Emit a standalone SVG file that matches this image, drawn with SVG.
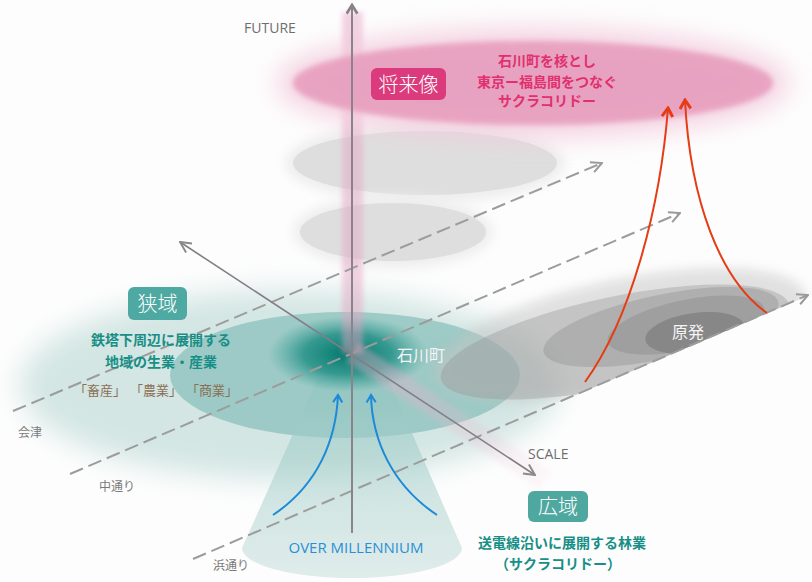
<svg xmlns="http://www.w3.org/2000/svg" width="812" height="582" viewBox="0 0 812 582">
<style>
.jp{font-family:"Noto Sans CJK JP","Noto Sans",sans-serif}
.lat{font-family:"Open Sans","Liberation Sans",sans-serif}
.axislbl{font-size:14px;fill:#6e6e6e}
.place{font-size:12px;fill:#7a7a7a}
.tealtxt{font-size:14px;font-weight:bold;fill:#178f86}
.pinktxt{font-size:14px;font-weight:bold;fill:#e0306e}
.badge{font-size:20px;fill:#fff;font-weight:300}
.dash{fill:none;stroke:#9c9c9c;stroke-width:2;stroke-dasharray:14 6}
</style>
<defs>
<filter id="soft" x="-20%" y="-20%" width="140%" height="140%"><feGaussianBlur stdDeviation="2.5"/></filter>
<filter id="halo" x="-40%" y="-60%" width="180%" height="220%"><feGaussianBlur stdDeviation="14"/></filter>
<filter id="mid" x="-30%" y="-50%" width="160%" height="200%"><feGaussianBlur stdDeviation="6"/></filter>
<radialGradient id="core" cx="0.5" cy="0.5" r="0.5">
<stop offset="0" stop-color="#00766b" stop-opacity="1"/>
<stop offset="0.55" stop-color="#0a857a" stop-opacity="0.7"/>
<stop offset="1" stop-color="#2a9a90" stop-opacity="0"/>
</radialGradient>
<linearGradient id="cone" x1="0" y1="0" x2="0" y2="1">
<stop offset="0" stop-color="#8fc4bf" stop-opacity="0.85"/>
<stop offset="1" stop-color="#c7dfdc" stop-opacity="0.8"/>
</linearGradient>
<linearGradient id="pinkdiag" gradientUnits="userSpaceOnUse" x1="352" y1="352" x2="545" y2="480">
<stop offset="0" stop-color="#e7a8c6" stop-opacity="0.7"/>
<stop offset="1" stop-color="#efc3d6" stop-opacity="0.2"/>
</linearGradient>
<clipPath id="aboveL3"><polygon points="0,0 812,0 812,294 0,642"/></clipPath>
<marker id="mGray" viewBox="0 0 12 12" refX="11" refY="6" markerWidth="13" markerHeight="13" markerUnits="userSpaceOnUse" orient="auto-start-reverse"><path d="M1,1 L11,6 L1,11" fill="none" stroke="#999" stroke-width="1.8"/></marker>
<marker id="mAxis" viewBox="0 0 12 12" refX="11" refY="6" markerWidth="13" markerHeight="13" markerUnits="userSpaceOnUse" orient="auto-start-reverse"><path d="M1,1 L11,6 L1,11" fill="none" stroke="#8a8a8a" stroke-width="1.8"/></marker>
<marker id="mTop" viewBox="0 0 12 12" refX="10" refY="6" markerWidth="13" markerHeight="13" markerUnits="userSpaceOnUse" orient="auto"><path d="M2,1 L10,6 L2,11" fill="none" stroke="#8a8489" stroke-width="2.6"/></marker>
<marker id="mRed" viewBox="0 0 12 12" refX="10" refY="6" markerWidth="13" markerHeight="13" markerUnits="userSpaceOnUse" orient="auto"><path d="M2,1 L10,6 L2,11" fill="none" stroke="#e63c14" stroke-width="2.8"/></marker>
<marker id="mBlue" viewBox="0 0 12 12" refX="10" refY="6" markerWidth="11" markerHeight="11" markerUnits="userSpaceOnUse" orient="auto"><path d="M2,1 L10,6 L2,11" fill="none" stroke="#1c8ad8" stroke-width="2.2"/></marker>
</defs>
<rect width="812" height="582" fill="#fdfdfd"/>

<g id="teal-region">
<ellipse cx="290" cy="385" rx="270" ry="95" fill="#d3e6e3" filter="url(#halo)"/>
<ellipse cx="345" cy="375" rx="175" ry="63" fill="#5aa9a2" opacity="0.45"/>
</g>

<g id="cone-region">
<path d="M318,378 L388,378 L462,548 A110,30 0 0 1 242,548 Z" fill="url(#cone)" opacity="0.7"/>
</g>

<g id="genpatsu" clip-path="url(#aboveL3)">
<ellipse cx="620" cy="335" rx="190" ry="55" transform="rotate(-12 620 335)" fill="#c4c4c4" opacity="0.5" filter="url(#mid)"/>
<ellipse cx="615" cy="342" rx="178" ry="45" transform="rotate(-12 615 342)" fill="#8e8e8e" opacity="0.35"/>
<ellipse cx="661" cy="327" rx="120" ry="32" transform="rotate(-12 661 327)" fill="#8a8a8a" opacity="0.35"/>
<ellipse cx="686" cy="325" rx="80" ry="25" transform="rotate(-12 686 325)" fill="#808080" opacity="0.35"/>
<ellipse cx="695" cy="333" rx="50" ry="20" transform="rotate(-8 695 333)" fill="#727272" opacity="0.55"/>
<text class="jp" x="688" y="338" font-size="16" fill="#f4f4f4" text-anchor="middle">原発</text>
</g>

<g id="core">
<ellipse cx="348" cy="354" rx="80" ry="38" fill="url(#core)"/>
</g>

<g id="past-layers">
<ellipse cx="425" cy="163" rx="140" ry="40" fill="#ededed" filter="url(#mid)"/>
<ellipse cx="425" cy="163" rx="132" ry="32" fill="#dedede"/>
<ellipse cx="393" cy="232" rx="100" ry="36" fill="#ededed" filter="url(#mid)"/>
<ellipse cx="393" cy="232" rx="93" ry="29" fill="#dedede"/>
</g>

<g id="pink-bands">
<line x1="352" y1="352" x2="545" y2="480" stroke="url(#pinkdiag)" stroke-width="22" opacity="0.6" filter="url(#soft)"/>
<rect x="342" y="12" width="21" height="342" fill="#e6a0c2" opacity="0.45" filter="url(#soft)"/>
</g>

<g id="future">
<ellipse cx="533" cy="83" rx="255" ry="52" fill="#f3cadb" filter="url(#halo)"/>
<ellipse cx="533" cy="83" rx="240" ry="42" fill="#e79cbd" opacity="0.85" filter="url(#soft)"/>
<rect x="371" y="68" width="75" height="32" rx="6" fill="#db3a7c"/>
<text class="jp badge" x="408.5" y="92" text-anchor="middle" font-size="22">将来像</text>
<text class="jp pinktxt" x="547" y="66" text-anchor="middle">石川町を核とし</text>
<text class="jp pinktxt" x="547" y="87" text-anchor="middle">東京ー福島間をつなぐ</text>
<text class="jp pinktxt" x="547" y="106" text-anchor="middle">サクラコリドー</text>
</g>

<g id="connectors">
<path class="dash" d="M13,411 L602,163" marker-end="url(#mGray)"/>
<path class="dash" d="M70,474 L680,213" marker-end="url(#mGray)"/>
<path class="dash" d="M193,559 L808,295" marker-end="url(#mGray)"/>
<path d="M180,242 L535,475" fill="none" stroke="#857c84" stroke-width="1.6" marker-start="url(#mAxis)" marker-end="url(#mAxis)"/>
<path d="M352,533 L352,5" fill="none" stroke="#8a8489" stroke-width="2" marker-end="url(#mTop)"/>
<path d="M585,382 C630,320 660,210 668,108" fill="none" stroke="#e63c14" stroke-width="2" marker-end="url(#mRed)"/>
<path d="M767,313 C720,280 690,200 685,100" fill="none" stroke="#e63c14" stroke-width="2" marker-end="url(#mRed)"/>
<path d="M273,515 C318,485 336,440 338,395" fill="none" stroke="#1c8ad8" stroke-width="2" marker-end="url(#mBlue)"/>
<path d="M437,515 C392,485 372,440 371,395" fill="none" stroke="#1c8ad8" stroke-width="2" marker-end="url(#mBlue)"/>
</g>

<g id="narrow">
<rect x="128" y="287" width="59" height="33" rx="6" fill="#4da9a1"/>
<text class="jp badge" x="157.5" y="311" text-anchor="middle">狭域</text>
<text class="jp tealtxt" x="161" y="345" text-anchor="middle">鉄塔下周辺に展開する</text>
<text class="jp tealtxt" x="161" y="367" text-anchor="middle">地域の生業・産業</text>
<text class="jp" x="100" y="395" font-size="13" fill="#8b6f55" text-anchor="middle">「畜産」</text>
<text class="jp" x="156" y="395" font-size="13" fill="#8b6f55" text-anchor="middle">「農業」</text>
<text class="jp" x="212" y="395" font-size="13" fill="#8b6f55" text-anchor="middle">「商業」</text>
</g>

<g id="ishikawa">
<text class="jp" x="421" y="361" font-size="16" fill="#f4f4f4" text-anchor="middle">石川町</text>
</g>

<g id="wide">
<rect x="528" y="491" width="60" height="31" rx="6" fill="#4ea8a0"/>
<text class="jp badge" x="558" y="514" text-anchor="middle">広域</text>
<text class="jp tealtxt" x="562" y="548" text-anchor="middle">送電線沿いに展開する林業</text>
<text class="jp tealtxt" x="558" y="569" text-anchor="middle">（サクラコリドー）</text>
</g>

<g id="labels">
<text class="lat axislbl" x="270" y="33" text-anchor="middle">FUTURE</text>
<text class="lat axislbl" x="528" y="459">SCALE</text>
<text class="lat" x="356" y="553" font-size="15" fill="#2a8fd6" text-anchor="middle">OVER MILLENNIUM</text>
<text class="jp place" x="18" y="437" font-size="11">会津</text>
<text class="jp place" x="99" y="491">中通り</text>
<text class="jp place" x="213" y="570">浜通り</text>
</g>
</svg>
